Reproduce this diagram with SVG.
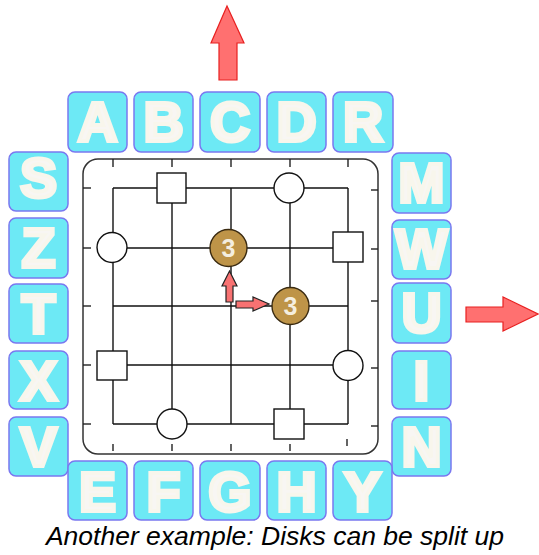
<svg xmlns="http://www.w3.org/2000/svg" width="539" height="555" viewBox="0 0 539 555">
<style>
.tile rect{fill:#6DE9F5;stroke:#7A78F0;stroke-width:1.5}
.tile text{font-family:"Liberation Sans",Arial,sans-serif;font-weight:bold;font-size:55px;fill:#F8F6F3;stroke:#F8F6EC;stroke-width:4;stroke-linejoin:miter;text-anchor:middle}
.g{stroke:#111;stroke-width:1.4;fill:none}
.tk{stroke:#222;stroke-width:1.4}
.pc{fill:#fff;stroke:#111;stroke-width:1.4}
.disk circle{fill:#BE9448;stroke:#3A2A10;stroke-width:1.4}
.disk text{font-family:"Liberation Sans",Arial,sans-serif;font-weight:bold;font-size:25px;fill:#F4EEDF;text-anchor:middle}
.big{fill:#FF7070;stroke:#E82020;stroke-width:1.2}
.sm{fill:#F87272;stroke:#222;stroke-width:1.2}
</style>
<g id="board">
<rect x="83" y="159" width="295" height="295" rx="15" fill="#fff" stroke="#333" stroke-width="1.5"/>
<g class="tk">
<line x1="113" y1="159" x2="113" y2="167"/><line x1="172" y1="159" x2="172" y2="167"/><line x1="231" y1="159" x2="231" y2="167"/><line x1="290" y1="159" x2="290" y2="167"/><line x1="348" y1="159" x2="348" y2="167"/>
<line x1="83" y1="188" x2="91" y2="188"/><line x1="83" y1="248" x2="91" y2="248"/><line x1="83" y1="306" x2="91" y2="306"/><line x1="83" y1="365" x2="91" y2="365"/><line x1="83" y1="424" x2="91" y2="424"/>
<line x1="371" y1="190" x2="378" y2="190"/><line x1="371" y1="249" x2="378" y2="249"/><line x1="371" y1="301" x2="378" y2="301"/><line x1="371" y1="368" x2="378" y2="368"/><line x1="371" y1="426" x2="378" y2="426"/>
<line x1="113" y1="444" x2="113" y2="451"/><line x1="172" y1="444" x2="172" y2="451"/><line x1="231" y1="444" x2="231" y2="451"/><line x1="290" y1="444" x2="290" y2="451"/><line x1="347" y1="439" x2="347" y2="446"/>
</g>
</g>
<g id="connectors" class="g">
<line x1="113" y1="188" x2="348" y2="188"/><line x1="113" y1="248" x2="348" y2="248"/><line x1="113" y1="306" x2="348" y2="306"/><line x1="113" y1="365" x2="348" y2="365"/><line x1="113" y1="424" x2="348" y2="424"/>
<line x1="113" y1="188" x2="113" y2="424"/><line x1="172" y1="188" x2="172" y2="424"/><line x1="231" y1="188" x2="231" y2="424"/><line x1="290" y1="188" x2="290" y2="424"/><line x1="348" y1="188" x2="348" y2="424"/>
</g>
<g id="sq1"><rect class="pc" x="157" y="173" width="29" height="30"/></g>
<g id="ci1"><circle class="pc" cx="289" cy="188" r="15"/></g>
<g id="ci2"><circle class="pc" cx="112" cy="247.5" r="15"/></g>
<g id="sq2"><rect class="pc" x="333" y="232" width="30" height="30"/></g>
<g id="sq3"><rect class="pc" x="97" y="351" width="30" height="29"/></g>
<g id="ci3"><circle class="pc" cx="348" cy="365.5" r="15"/></g>
<g id="ci4"><circle class="pc" cx="172" cy="424" r="15"/></g>
<g id="sq4"><rect class="pc" x="274" y="409" width="30" height="30"/></g>
<g id="disk1" class="disk"><circle cx="228.5" cy="248" r="18.5"/><text x="228.5" y="257">3</text></g>
<g id="disk2" class="disk"><circle cx="290.5" cy="306" r="18.5"/><text x="290.5" y="315">3</text></g>
<g id="arrows">
<path class="big" d="M227,6 L244,43 L237,43 L237,80 L219,80 L219,43 L211,43 Z"/>
<path class="big" d="M466,307 L503,307 L503,297 L538,314 L503,331 L503,322 L466,322 Z"/>
<path class="sm" d="M229.5,271 L237,286 L233,286 L233,302 L226,302 L226,286 L222,286 Z"/>
<path class="sm" d="M236,301 L253,301 L253,297 L269,304 L253,311 L253,308 L236,308 Z"/>
</g>
<g id="tA" class="tile"><rect x="68" y="92" width="59" height="60" rx="7"/><text x="97.5" y="141">A</text></g>
<g id="tB" class="tile"><rect x="134" y="92" width="59" height="60" rx="7"/><text x="163.5" y="141">B</text></g>
<g id="tC" class="tile"><rect x="200" y="92" width="60" height="60" rx="7"/><text x="230" y="141">C</text></g>
<g id="tD" class="tile"><rect x="267" y="92" width="59" height="60" rx="7"/><text x="296.5" y="141">D</text></g>
<g id="tR" class="tile"><rect x="333" y="92" width="60" height="60" rx="7"/><text x="363" y="141">R</text></g>
<g id="tS" class="tile"><rect x="9" y="152" width="59" height="59" rx="7"/><text x="38.5" y="197">S</text></g>
<g id="tZ" class="tile"><rect x="9" y="218" width="59" height="60" rx="7"/><text x="38.5" y="267">Z</text></g>
<g id="tT" class="tile"><rect x="9" y="284" width="59" height="59" rx="7"/><text x="38.5" y="333">T</text></g>
<g id="tX" class="tile"><rect x="9" y="351" width="59" height="58" rx="7"/><text x="38.5" y="400">X</text></g>
<g id="tV" class="tile"><rect x="9" y="417" width="59" height="59" rx="7"/><text x="38.5" y="466">V</text></g>
<g id="tM" class="tile"><rect x="392" y="153" width="59" height="60" rx="7"/><text x="421.5" y="202">M</text></g>
<g id="tW" class="tile"><rect x="392" y="220" width="59" height="59" rx="7"/><text x="421.5" y="268">W</text></g>
<g id="tU" class="tile"><rect x="392" y="283" width="59" height="60" rx="7"/><text x="421.5" y="332">U</text></g>
<g id="tI" class="tile"><rect x="392" y="351" width="59" height="58" rx="7"/><text x="421.5" y="400">I</text></g>
<g id="tN" class="tile"><rect x="392" y="417" width="59" height="59" rx="7"/><text x="421.5" y="466">N</text></g>
<g id="tE" class="tile"><rect x="68" y="461" width="59" height="59" rx="7"/><text x="97.5" y="511">E</text></g>
<g id="tF" class="tile"><rect x="134" y="461" width="59" height="59" rx="7"/><text x="163.5" y="511">F</text></g>
<g id="tG" class="tile"><rect x="200" y="461" width="60" height="59" rx="7"/><text x="230" y="511">G</text></g>
<g id="tH" class="tile"><rect x="267" y="461" width="59" height="59" rx="7"/><text x="296.5" y="511">H</text></g>
<g id="tY" class="tile"><rect x="333" y="461" width="59" height="59" rx="7"/><text x="362.5" y="511">Y</text></g>
<text x="275" y="545" font-family="'Liberation Sans',Arial,sans-serif" font-style="italic" font-size="26.5" text-anchor="middle" fill="#000">Another example: Disks can be split up</text>
</svg>
